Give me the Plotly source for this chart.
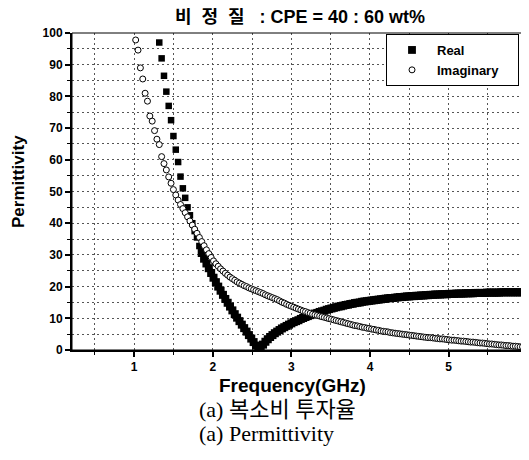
import plotly.graph_objects as go

# Frequency grid (GHz)
freq = [
    1.02, 1.05, 1.08, 1.11, 1.14, 1.17, 1.20, 1.23, 1.26, 1.29,
    1.32, 1.35, 1.38, 1.41, 1.44, 1.47, 1.50, 1.53, 1.56, 1.59,
    1.62, 1.65, 1.68, 1.71, 1.74, 1.77, 1.80, 1.83, 1.86, 1.89,
    1.92, 1.95, 1.98, 2.01, 2.04, 2.07, 2.10, 2.13, 2.16, 2.19,
    2.22, 2.25, 2.28, 2.31, 2.34, 2.37, 2.40, 2.43, 2.46, 2.49,
    2.52, 2.55, 2.58, 2.61, 2.64, 2.67, 2.70, 2.73, 2.76, 2.79,
    2.82, 2.85, 2.88, 2.91, 2.94, 2.97, 3.00, 3.03, 3.06, 3.09,
    3.12, 3.15, 3.18, 3.21, 3.24, 3.27, 3.30, 3.33, 3.36, 3.39,
    3.42, 3.45, 3.48, 3.51, 3.54, 3.57, 3.60, 3.63, 3.66, 3.69,
    3.72, 3.75, 3.78, 3.81, 3.84, 3.87, 3.90, 3.93, 3.96, 3.99,
    4.02, 4.05, 4.08, 4.11, 4.14, 4.17, 4.20, 4.23, 4.26, 4.29,
    4.32, 4.35, 4.38, 4.41, 4.44, 4.47, 4.50, 4.53, 4.56, 4.59,
    4.62, 4.65, 4.68, 4.71, 4.74, 4.77, 4.80, 4.83, 4.86, 4.89,
    4.92, 4.95, 4.98, 5.01, 5.04, 5.07, 5.10, 5.13, 5.16, 5.19,
    5.22, 5.25, 5.28, 5.31, 5.34, 5.37, 5.40, 5.43, 5.46, 5.49,
    5.52, 5.55, 5.58, 5.61, 5.64, 5.67, 5.70, 5.73, 5.76, 5.79,
    5.82, 5.85, 5.88, 5.91, 5.94, 5.97, 6.00,
]

imaginary = [
    97.8, 94.6, 89.0, 85.5, 81.0, 78.5, 73.8, 72.2, 69.2, 66.5,
    64.8, 61.0, 58.8, 56.8, 54.6, 52.6, 50.6, 48.9, 47.3, 45.9,
    44.6, 43.3, 42.0, 40.7, 39.4, 38.1, 36.8, 35.5, 34.2, 32.9,
    31.6, 30.4, 29.2, 28.1, 27.2, 26.4, 25.6, 24.9, 24.2, 23.6,
    23.0, 22.5, 22.0, 21.5, 21.1, 20.7, 20.3, 20.0, 19.6, 19.3,
    19.0, 18.7, 18.4, 18.1, 17.8, 17.4, 17.1, 16.8, 16.5, 16.2,
    15.9, 15.5, 15.1, 14.8, 14.4, 14.1, 13.8, 13.5, 13.2, 12.9,
    12.6, 12.3, 12.1, 11.8, 11.6, 11.3, 11.1, 10.9, 10.7, 10.5,
    10.3, 10.1, 9.9, 9.7, 9.5, 9.3, 9.1, 8.9, 8.7, 8.5,
    8.3, 8.1, 7.9, 7.7, 7.6, 7.4, 7.2, 7.1, 6.9, 6.8,
    6.6, 6.5, 6.3, 6.2, 6.0, 5.9, 5.8, 5.7, 5.5, 5.4,
    5.3, 5.2, 5.1, 5.0, 4.9, 4.8, 4.7, 4.6, 4.5, 4.4,
    4.3, 4.2, 4.1, 4.0, 3.9, 3.9, 3.8, 3.7, 3.6, 3.5,
    3.5, 3.4, 3.3, 3.2, 3.1, 3.1, 3.0, 2.9, 2.8, 2.8,
    2.7, 2.6, 2.5, 2.5, 2.4, 2.3, 2.2, 2.2, 2.1, 2.0,
    1.9, 1.9, 1.8, 1.7, 1.6, 1.6, 1.5, 1.4, 1.4, 1.3,
    1.2, 1.2, 1.1, 1.0, 1.0, 0.9, 0.8,
]

# Real part is off-scale (>100) below 1.32 GHz
real_freq = freq[10:]
real = [
    97.0, 92.0, 86.5, 81.5, 77.0, 72.5, 67.5, 63.2, 59.3, 54.7,
    51.0, 48.0, 45.0, 42.5, 40.0, 37.5, 35.5, 32.8, 30.6, 28.8,
    27.3, 25.8, 24.3, 22.8, 21.4, 20.0, 18.7, 17.4, 16.1, 14.9,
    13.7, 12.5, 11.3, 10.2, 9.1, 8.0, 6.9, 5.8, 4.7, 3.6,
    2.5, 1.4, 0.4, 0.6, 1.7, 2.6, 3.4, 4.1, 4.7, 5.3,
    5.8, 6.3, 6.8, 7.2, 7.6, 8.0, 8.4, 8.8, 9.1, 9.4,
    9.8, 10.1, 10.4, 10.7, 11.0, 11.2, 11.5, 11.7, 12.0, 12.2,
    12.4, 12.7, 12.9, 13.1, 13.3, 13.5, 13.7, 13.8, 14.0, 14.2,
    14.3, 14.5, 14.6, 14.8, 14.9, 15.0, 15.2, 15.3, 15.4, 15.5,
    15.6, 15.7, 15.8, 15.9, 16.0, 16.1, 16.2, 16.3, 16.4, 16.4,
    16.5, 16.6, 16.7, 16.7, 16.8, 16.9, 16.9, 17.0, 17.0, 17.1,
    17.1, 17.2, 17.2, 17.3, 17.3, 17.4, 17.4, 17.5, 17.5, 17.5,
    17.6, 17.6, 17.6, 17.7, 17.7, 17.7, 17.8, 17.8, 17.8, 17.8,
    17.9, 17.9, 17.9, 17.9, 18.0, 18.0, 18.0, 18.0, 18.0, 18.1,
    18.1, 18.1, 18.1, 18.1, 18.1, 18.2, 18.2, 18.2, 18.2, 18.2,
    18.2, 18.2, 18.2, 18.2, 18.2, 18.2, 18.2,
]

title_text = "비\u00a0 정\u00a0 질\u00a0\u00a0 : CPE = 40 : 60 wt%"
x_title = "Frequency(GHz)"
y_title = "Permittivity"
caption_ko = "(a) 복소비 투자율"
caption_en = "(a) Permittivity"

SANS = "Liberation Sans, Arial, Noto Sans CJK KR"
SERIF = "Liberation Serif, Times New Roman, Noto Sans CJK KR"

# squares in the dense part of the real curve read as a thicker band
real_sizes = [6.5 if f < 1.85 else 8 for f in real_freq]

fig = go.Figure()
fig.add_trace(go.Scatter(
    x=real_freq, y=real, mode="markers", name="Real",
    marker=dict(symbol="square", size=real_sizes, color="black", opacity=1,
                line=dict(width=0)),
))
fig.add_trace(go.Scatter(
    x=freq, y=imaginary, mode="markers",
    name="Imaginary\u00a0\u00a0\u00a0\u00a0",
    marker=dict(symbol="circle", size=6, color="white", opacity=1,
                line=dict(width=1, color="black")),
))

# The page body has an 8px margin, so the figure is laid out 8px smaller
# and every position below is given in page (screen) pixels.
OFF = 8
W, H = 529 - OFF, 460 - OFF
L, R, T, B = 72 - OFF, 1, 33 - OFF, H - (350 - OFF)
pw, ph = W - L - R, H - T - B

def px(xs):
    return (xs - OFF - L) / pw

def py(ys):
    return (H - B - (ys - OFF)) / ph

grid = dict(showgrid=True, gridcolor="#555", gridwidth=1, griddash="2px,3px")

fig.update_xaxes(
    range=[0.21, 6.01], tickmode="linear", tick0=0, dtick=1,
    ticks="outside", ticklen=5, tickwidth=1.5, tickcolor="black",
    showline=True, linewidth=2, linecolor="black", zeroline=False,
    automargin=False, ticklabeloverflow="allow",
    tickfont=dict(family=SANS, size=12, color="black", weight="bold"),
    minor=dict(dtick=0.5, tick0=0, ticks="outside", ticklen=3, tickwidth=1,
               tickcolor="black", **grid),
    **grid,
)
fig.update_yaxes(
    range=[0, 100], tickmode="linear", tick0=0, dtick=10,
    ticks="outside", ticklen=5, tickwidth=1.5, tickcolor="black",
    showline=True, linewidth=2, linecolor="black", zeroline=False,
    automargin=False,
    tickfont=dict(family=SANS, size=12, color="black", weight="bold"),
    minor=dict(dtick=5, tick0=0, ticks="outside", ticklen=3, tickwidth=1,
               tickcolor="black", **grid),
    **grid,
)

fig.add_shape(type="rect", xref="paper", yref="paper", x0=0, y0=0, x1=1, y1=1,
              line=dict(color="black", width=1), layer="above")

fig.update_layout(
    width=W, height=H,
    margin=dict(l=L, r=R, t=T, b=B, autoexpand=False),
    paper_bgcolor="white", plot_bgcolor="white",
    title=dict(text=title_text, x=(300 - OFF) / W, xanchor="center",
               y=1 - (17 - OFF) / H, yanchor="middle",
               font=dict(family=SANS, size=18, color="black", weight="bold")),
    legend=dict(x=px(386), xanchor="left", y=py(34), yanchor="top",
                bgcolor="white", bordercolor="black", borderwidth=1,
                itemwidth=40,
                font=dict(family=SANS, size=13, color="black", weight="bold"),
                tracegroupgap=0),
    showlegend=True,
    annotations=[
        dict(text=x_title, x=px(292), y=py(385), xref="paper", yref="paper",
             xanchor="center", yanchor="middle", showarrow=False,
             font=dict(family=SANS, size=19, color="black", weight="bold")),
        dict(text=y_title, x=px(18), y=py(182), xref="paper", yref="paper",
             xanchor="center", yanchor="middle", showarrow=False, textangle=-90,
             font=dict(family=SANS, size=17, color="black", weight="bold")),
        dict(text=caption_ko, x=px(197), y=py(409), xref="paper", yref="paper",
             xanchor="left", yanchor="middle", showarrow=False,
             font=dict(family=SERIF, size=22, color="black")),
        dict(text=caption_en, x=px(197), y=py(433), xref="paper", yref="paper",
             xanchor="left", yanchor="middle", showarrow=False,
             font=dict(family=SERIF, size=22, color="black")),
    ],
)

fig.write_html("out.html")
